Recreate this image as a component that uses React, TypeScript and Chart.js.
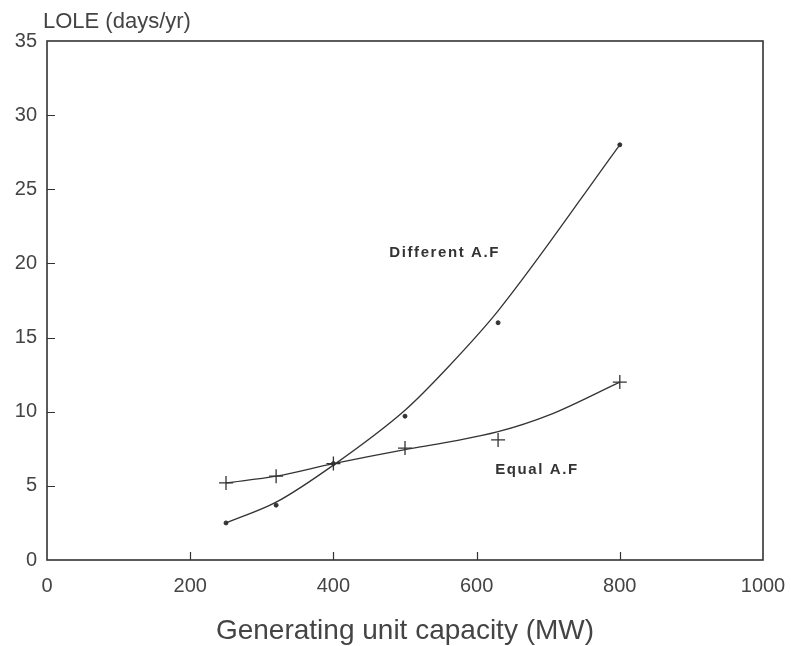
import React, { useEffect, useRef } from "react";
import { Chart, registerables } from "chart.js";

Chart.register(...registerables);

// Data
const capacities = [250, 320, 400, 500, 630, 800];
const differentAF = [2.5, 3.7, 6.5, 9.7, 16.0, 28.0];
const equalAF = [5.2, 5.65, 6.5, 7.55, 8.1, 12.0];
// Fitted (smoothed) curves as drawn in the reference
const differentCurveX = [250, 320, 400, 500, 560, 630, 800];
const differentCurveY = [2.5, 3.9, 6.4, 10.1, 13.0, 16.8, 28.0];
const equalCurveX = [250, 320, 400, 500, 560, 630, 700, 800];
const equalCurveY = [5.2, 5.65, 6.5, 7.45, 7.95, 8.65, 9.75, 12.0];

const xTicks = [0, 200, 400, 600, 800, 1000];
const yTicks = [0, 5, 10, 15, 20, 25, 30, 35];

const yTitle = "LOLE (days/yr)";
const xTitle = "Generating unit capacity (MW)";
const labelDifferent = { text: "Different A.F", x: 478, y: 20.7 };
const labelEqual = { text: "Equal A.F", x: 626, y: 6.06 };

const INK = "#333";
const TEXT = "#444";
const FONT = "'Liberation Sans', Arial, sans-serif";

export default function App() {
  const ref = useRef<HTMLCanvasElement | null>(null);

  useEffect(() => {
    if (!ref.current) return;
    const decor = {
      id: "decor",
      afterDraw(chart: any) {
        const { ctx, chartArea: a, scales } = chart;
        const xs = scales.x;
        const ys = scales.y;
        ctx.save();
        ctx.strokeStyle = INK;
        ctx.lineWidth = 1.6;
        ctx.strokeRect(a.left, a.top, a.right - a.left, a.bottom - a.top);
        ctx.lineWidth = 1.2;
        ctx.beginPath();
        xTicks.slice(1, -1).forEach((v) => {
          const px = Math.round(xs.getPixelForValue(v)) + 0.5;
          ctx.moveTo(px, a.bottom);
          ctx.lineTo(px, a.bottom - 8);
        });
        yTicks.slice(1, -1).forEach((v) => {
          const py = Math.round(ys.getPixelForValue(v)) + 0.5;
          ctx.moveTo(a.left, py);
          ctx.lineTo(a.left + 8, py);
        });
        ctx.stroke();

        ctx.fillStyle = TEXT;
        ctx.textBaseline = "middle";
        ctx.textAlign = "left";
        ctx.font = `22px ${FONT}`;
        ctx.fillText(yTitle, 43, 22);

        ctx.textAlign = "center";
        ctx.font = `28px ${FONT}`;
        ctx.fillText(xTitle, (a.left + a.right) / 2, 631);

        ctx.fillStyle = "#333";
        ctx.textAlign = "left";
        ctx.font = `bold 15px ${FONT}`;
        (ctx as any).letterSpacing = "1.6px";
        [labelDifferent, labelEqual].forEach((l) => {
          ctx.fillText(l.text, xs.getPixelForValue(l.x), ys.getPixelForValue(l.y));
        });
        ctx.restore();
      },
    };

    const chart = new Chart(ref.current, {
      type: "scatter",
      data: {
        datasets: [
          {
            type: "line",
            label: "Different A.F curve",
            data: differentCurveX.map((c, i) => ({ x: c, y: differentCurveY[i] })),
            borderColor: INK,
            borderWidth: 1.3,
            pointRadius: 0,
            cubicInterpolationMode: "monotone",
            fill: false,
          },
          {
            type: "line",
            label: "Equal A.F curve",
            data: equalCurveX.map((c, i) => ({ x: c, y: equalCurveY[i] })),
            borderColor: INK,
            borderWidth: 1.3,
            pointRadius: 0,
            cubicInterpolationMode: "monotone",
            fill: false,
          },
          {
            label: "Different A.F",
            data: capacities.map((c, i) => ({ x: c, y: differentAF[i] })),
            pointStyle: "circle",
            pointRadius: 2,
            backgroundColor: INK,
            borderColor: INK,
          },
          {
            label: "Equal A.F",
            data: capacities.map((c, i) => ({ x: c, y: equalAF[i] })),
            pointStyle: "cross",
            pointRadius: 7,
            borderWidth: 1.3,
            borderColor: INK,
            backgroundColor: INK,
          },
        ],
      },
      options: {
        animation: false,
        responsive: true,
        maintainAspectRatio: false,
        layout: { padding: { top: 41, right: 28, left: 0, bottom: 0 } },
        plugins: { legend: { display: false }, tooltip: { enabled: false }, title: { display: false } },
        scales: {
          x: {
            type: "linear",
            min: 0,
            max: 1000,
            afterBuildTicks: (s: any) => {
              s.ticks = xTicks.map((v) => ({ value: v }));
            },
            afterFit: (s: any) => {
              s.height = 86;
              s.paddingLeft = 0;
              s.paddingRight = 0;
            },
            grid: { display: false, drawTicks: false },
            border: { display: false },
            ticks: {
              padding: 14,
              color: TEXT,
              font: { family: FONT, size: 20 },
              maxRotation: 0,
              callback: (v: any) => String(v),
            },
          },
          y: {
            type: "linear",
            min: 0,
            max: 35,
            afterBuildTicks: (s: any) => {
              s.ticks = yTicks.map((v) => ({ value: v }));
            },
            afterFit: (s: any) => {
              s.width = 47;
              s.paddingTop = 0;
              s.paddingBottom = 0;
            },
            grid: { display: false, drawTicks: false },
            border: { display: false },
            ticks: {
              padding: 10,
              color: TEXT,
              font: { family: FONT, size: 20 },
              callback: (v: any) => String(v),
            },
          },
        },
      },
      plugins: [decor],
    } as any);
    return () => chart.destroy();
  }, []);

  return (
    <div style={{ position: "fixed", left: 0, top: 0, width: 791, height: 646, background: "#fff" }}>
      <canvas ref={ref} />
    </div>
  );
}
